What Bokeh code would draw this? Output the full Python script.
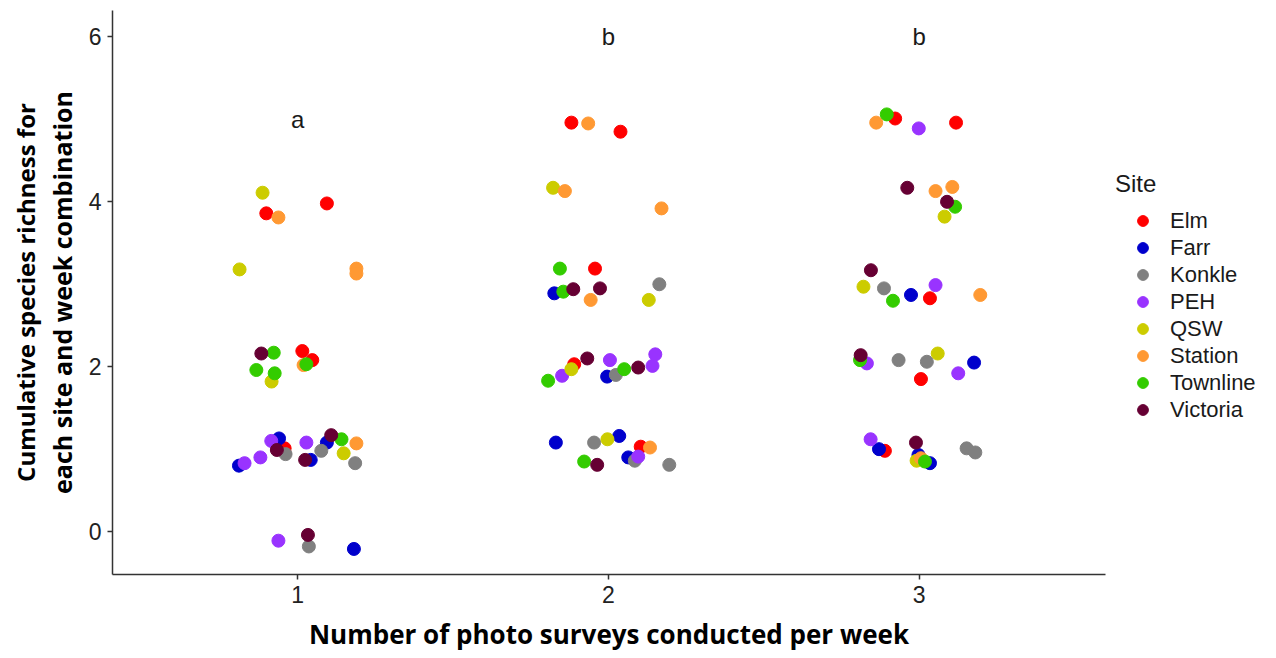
from bokeh.plotting import figure
from bokeh.models import Legend, LegendItem, Title, Range1d, FixedTicker
from bokeh.embed import file_html
from bokeh.resources import INLINE
from bokeh.core.properties import value

# Sites and their colours
sites = ["Elm", "Farr", "Konkle", "PEH", "QSW", "Station", "Townline", "Victoria"]
site_colors = ["#FF0000", "#0000CC", "#808080", "#9933FF", "#CCCC00", "#FF9933", "#33CC00", "#660033"]

# Jittered positions: surveys per week (x) and cumulative species richness (y)
elm_x = [0.899, 1.094, 1.015, 1.047, 0.958, 1.881, 2.039, 1.957, 1.890, 2.104, 2.923, 3.119, 3.035, 3.006, 2.890]
elm_y = [3.86, 3.98, 2.19, 2.08, 1.01, 4.96, 4.85, 3.19, 2.03, 1.03, 5.01, 4.96, 2.83, 1.85, 0.98]

farr_x = [0.940, 0.811, 1.042, 1.094, 1.181, 1.826, 1.996, 1.831, 2.035, 2.064, 2.974, 3.177, 2.871, 2.998, 3.035]
farr_y = [1.13, 0.80, 0.87, 1.08, -0.21, 2.89, 1.88, 1.08, 1.16, 0.90, 2.87, 2.05, 1.00, 0.93, 0.83]

konkle_x = [0.961, 1.076, 1.185, 1.036, 2.164, 2.024, 1.954, 2.085, 2.196, 2.887, 2.934, 3.025, 3.153, 3.181]
konkle_y = [0.94, 0.98, 0.83, -0.18, 3.00, 1.90, 1.08, 0.86, 0.81, 2.95, 2.08, 2.06, 1.01, 0.96]

peh_x = [0.915, 0.829, 0.880, 1.028, 0.938, 1.851, 2.005, 2.142, 2.151, 2.096, 2.999, 3.053, 2.832, 3.126, 2.844]
peh_y = [1.10, 0.83, 0.90, 1.08, -0.11, 1.89, 2.08, 2.01, 2.15, 0.91, 4.89, 2.99, 2.04, 1.92, 1.12]

qsw_x = [0.887, 0.813, 0.916, 1.148, 1.822, 2.130, 1.881, 1.997, 3.082, 2.821, 3.060, 2.992]
qsw_y = [4.11, 3.18, 1.82, 0.95, 4.17, 2.81, 1.97, 1.12, 3.82, 2.97, 2.16, 0.86]

station_x = [0.938, 1.189, 1.189, 1.019, 1.189, 1.935, 1.860, 2.171, 1.943, 2.134, 2.862, 3.053, 3.107, 3.197, 3.006]
station_y = [3.81, 3.19, 3.13, 2.02, 1.07, 4.95, 4.13, 3.92, 2.81, 1.02, 4.96, 4.13, 4.18, 2.87, 0.89]

townline_x = [0.923, 0.867, 0.926, 1.028, 1.141, 1.844, 1.855, 1.806, 2.051, 1.922, 2.896, 3.116, 2.916, 2.810, 3.019]
townline_y = [2.17, 1.96, 1.92, 2.03, 1.12, 3.19, 2.91, 1.83, 1.97, 0.85, 5.06, 3.94, 2.80, 2.08, 0.85]

victoria_x = [0.883, 0.933, 1.024, 1.108, 1.033, 1.887, 1.973, 1.932, 2.096, 1.964, 2.962, 3.090, 2.845, 2.812, 2.990]
victoria_y = [2.16, 0.99, 0.87, 1.17, -0.04, 2.94, 2.95, 2.10, 1.99, 0.81, 4.17, 4.00, 3.17, 2.14, 1.08]

site_x = [elm_x, farr_x, konkle_x, peh_x, qsw_x, station_x, townline_x, victoria_x]
site_y = [elm_y, farr_y, konkle_y, peh_y, qsw_y, station_y, townline_y, victoria_y]

# Significance letters per survey frequency
group_x = [1, 2, 3]
group_letters = ["a", "b", "b"]
letter_y = [5, 6, 6]

x_ticks = [1, 2, 3]
y_ticks = [0, 2, 4, 6]

TICK_FONT = "Liberation Sans"
TITLE_FONT = "Open Sans"

p = figure(
    frame_width=993, frame_height=564,
    x_range=Range1d(0.404, 3.6), y_range=Range1d(-0.52, 6.32),
    output_backend="svg", toolbar_location=None,
    min_border_left=112, min_border_right=171,
    min_border_top=10, min_border_bottom=84,
)
p.xgrid.visible = False
p.ygrid.visible = False
p.outline_line_color = None
p.background_fill_color = "white"
p.border_fill_color = "white"

for ax in (p.xaxis[0], p.yaxis[0]):
    ax.axis_line_color = "#333333"
    ax.axis_line_width = 1.5
    ax.major_tick_line_color = "#333333"
    ax.major_tick_line_width = 1.5
    ax.major_tick_out = 5
    ax.major_tick_in = 0
    ax.minor_tick_line_color = None
    ax.major_label_text_font = TICK_FONT
    ax.major_label_text_font_size = "23px"
    ax.major_label_text_color = "#222222"
    ax.axis_label_text_font = TITLE_FONT
    ax.axis_label_text_font_style = "bold"
    ax.axis_label_text_color = "black"

p.xaxis.ticker = FixedTicker(ticks=x_ticks)
p.yaxis.ticker = FixedTicker(ticks=y_ticks)
p.xaxis.major_label_standoff = 6
p.yaxis.major_label_standoff = 6

p.xaxis.axis_label = "Number of photo surveys conducted per week"
p.xaxis.axis_label_text_font_size = "26px"
p.xaxis.axis_label_standoff = 10
p.yaxis.axis_label = "each site and week combination"
p.yaxis.axis_label_text_font_size = "25px"
p.yaxis.axis_label_standoff = 7

# first line of the two-line y-axis title
p.add_layout(Title(text="Cumulative species richness for", align="center",
                   text_font=TITLE_FONT, text_font_style="bold",
                   text_font_size="24px", text_color="black", standoff=0), "left")

items = []
for name, col, xs, ys in zip(sites, site_colors, site_x, site_y):
    r = p.scatter(xs, ys, size=13, marker="circle", fill_color=col, line_color=col, line_width=1)
    items.append(LegendItem(label=name, renderers=[r]))

p.text(x=group_x, y=letter_y, text=group_letters, text_font=value(TICK_FONT),
       text_font_size="24px", text_align="center", text_baseline="middle", text_color="#1a1a1a")

# legend in the right-hand panel, bottom-left corner given in panel pixels
legend = Legend(items=items, location=(10, 151), title="Site")
legend.title_text_font = TICK_FONT
legend.title_text_font_size = "24px"
legend.title_text_font_style = "normal"
legend.title_text_color = "#1a1a1a"
legend.title_standoff = 9
legend.label_text_font = TICK_FONT
legend.label_text_font_size = "22px"
legend.label_text_color = "#1a1a1a"
legend.label_height = 27
legend.glyph_width = 55
legend.glyph_height = 27
legend.spacing = 0
legend.padding = 0
legend.margin = 10
legend.label_standoff = 0
legend.border_line_color = None
legend.background_fill_alpha = 0
p.add_layout(legend, "right")

open("out.html", "w").write(file_html(p, INLINE))
